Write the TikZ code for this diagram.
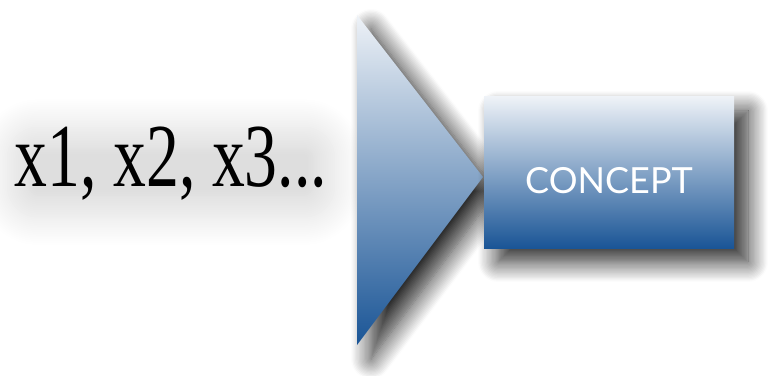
\documentclass[tikz,border=0pt]{standalone}
\usepackage{fontspec}
\setmainfont{Liberation Serif}
\newfontfamily\conceptFont{Lato}
\usetikzlibrary{shadows.blur}
\definecolor{cptLight}{HTML}{EEF2F7}
\definecolor{cptBlue}{HTML}{1A5596}

\tikzset{
  darkShadow/.style={blur shadow={shadow xshift=14pt,shadow yshift=-14pt,
      shadow blur radius=20pt,shadow blur steps=16,shadow opacity=85}},
  cptBox/.style={minimum width=250pt,minimum height=151pt,inner sep=0pt,
      top color=cptLight,bottom color=cptBlue,darkShadow},
  cptLabel/.style={text=white,font=\conceptFont\fontsize{36}{36}\selectfont},
  varsText/.style={font=\fontsize{90}{90}\selectfont,xscale=0.73,transform shape,
      inner xsep=10pt,inner ysep=8pt,rounded corners=30pt,
      blur shadow={shadow xshift=0pt,shadow yshift=-8pt,
      shadow blur radius=28pt,shadow blur steps=16,shadow opacity=13}}
}

\begin{document}
\begin{tikzpicture}[x=1pt,y=1pt]
  \useasboundingbox (0,0) rectangle (770,375);
  % the inputs
  \node[varsText,anchor=base] (inputs) at (171,188) {x1, x2, x3...};
  % the arrow head
  \coordinate (triTop) at (357,360);
  \coordinate (triTip) at (483,198);
  \coordinate (triBot) at (357,30);
  \shade[top color=cptLight,bottom color=cptBlue,darkShadow]
    (triTop) -- (triTip) -- (triBot) -- cycle;
  % the box
  \node[cptBox] (concept) at (609,202.5) {};
  \node[cptLabel] (conceptText) at ([yshift=-8pt]concept.center) {CONCEPT};
\end{tikzpicture}
\end{document}
